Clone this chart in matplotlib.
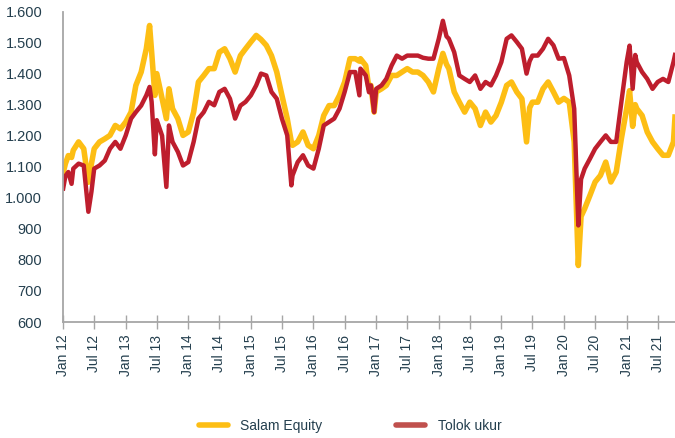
import matplotlib
matplotlib.use("Agg")
import matplotlib.pyplot as plt
import pandas as pd
from matplotlib.lines import Line2D
from matplotlib.ticker import FuncFormatter

plt.rcParams['font.family'] = ['Liberation Sans', 'DejaVu Sans']

# values (index level, start ~1.000)
dates = [
    "2012-01-02", "2012-01-15", "2012-02-01", "2012-02-20", "2012-03-01", "2012-04-01",
    "2012-05-01", "2012-05-28", "2012-06-15", "2012-07-01", "2012-08-01", "2012-09-01",
    "2012-10-01", "2012-11-01", "2012-12-01", "2013-01-01", "2013-02-01", "2013-03-01",
    "2013-04-01", "2013-05-01", "2013-05-20", "2013-06-01", "2013-06-20", "2013-07-01",
    "2013-08-01", "2013-08-26", "2013-09-10", "2013-10-01", "2013-11-01", "2013-12-01",
    "2014-01-01", "2014-02-01", "2014-03-01", "2014-04-01", "2014-05-01", "2014-06-01",
    "2014-07-01", "2014-08-01", "2014-09-01", "2014-10-01", "2014-11-01", "2014-12-01",
    "2015-01-01", "2015-02-01", "2015-03-01", "2015-04-01", "2015-05-01", "2015-06-01",
    "2015-07-01", "2015-08-01", "2015-08-25", "2015-09-01", "2015-10-01", "2015-11-01",
    "2015-12-01", "2016-01-01", "2016-02-01", "2016-03-01", "2016-04-01", "2016-05-01",
    "2016-06-01", "2016-07-01", "2016-08-01", "2016-09-01", "2016-09-25", "2016-10-01",
    "2016-11-01", "2016-11-20", "2016-12-01", "2016-12-20", "2017-01-01", "2017-02-01",
    "2017-03-01", "2017-04-01", "2017-05-01", "2017-06-01", "2017-07-01", "2017-08-01",
    "2017-09-01", "2017-10-01", "2017-11-01", "2017-12-01", "2018-01-01", "2018-01-25",
    "2018-02-15", "2018-03-01", "2018-04-01", "2018-05-01", "2018-06-01", "2018-07-01",
    "2018-08-01", "2018-09-01", "2018-10-01", "2018-11-01", "2018-12-01", "2019-01-01",
    "2019-02-01", "2019-03-01", "2019-04-01", "2019-05-01", "2019-05-28", "2019-06-15",
    "2019-07-01", "2019-08-01", "2019-09-01", "2019-10-01", "2019-11-01", "2019-12-01",
    "2020-01-01", "2020-02-01", "2020-03-01", "2020-03-25", "2020-04-10", "2020-05-01",
    "2020-06-01", "2020-07-01", "2020-08-01", "2020-09-01", "2020-10-01", "2020-11-01",
    "2020-12-01", "2021-01-01", "2021-01-18", "2021-02-05", "2021-02-20", "2021-03-01",
    "2021-04-01", "2021-05-01", "2021-06-01", "2021-07-01", "2021-08-01", "2021-09-01",
    "2021-10-01", "2021-10-10",
]
salam = [
    1080, 1110, 1136, 1130, 1153, 1180,
    1158, 1050, 1110, 1158, 1180, 1190,
    1201, 1233, 1222, 1244, 1276, 1362,
    1405, 1480, 1555, 1470, 1330, 1400,
    1320, 1255, 1351, 1287, 1255, 1201,
    1212, 1276, 1373, 1394, 1416, 1416,
    1469, 1480, 1448, 1405, 1458, 1480,
    1502, 1523, 1510, 1491, 1458, 1405,
    1330, 1255, 1180, 1169, 1180, 1212,
    1169, 1158, 1201, 1265, 1297, 1297,
    1330, 1373, 1448, 1448, 1440, 1448,
    1426, 1351, 1362, 1276, 1341, 1351,
    1362, 1394, 1394, 1405, 1416, 1405,
    1405, 1394, 1373, 1341, 1416, 1465,
    1430, 1416, 1341, 1308, 1276, 1308,
    1287, 1233, 1276, 1244, 1265, 1308,
    1362, 1373, 1341, 1319, 1180, 1290,
    1308, 1308, 1351, 1373, 1341, 1308,
    1320, 1308, 1180, 782, 940, 965,
    1008, 1051, 1072, 1115, 1051, 1083,
    1190, 1287, 1345, 1230, 1300, 1287,
    1265, 1212, 1180, 1158, 1137, 1137,
    1180, 1260,
]
tolok = [
    1030, 1070, 1083, 1045, 1094, 1110,
    1104, 955, 1020, 1094, 1104, 1120,
    1158, 1180, 1158, 1201, 1255, 1276,
    1297, 1330, 1357, 1309, 1140, 1250,
    1200, 1035, 1233, 1180, 1148, 1104,
    1115, 1180, 1255, 1276, 1309, 1298,
    1341, 1351, 1319, 1255, 1297, 1309,
    1330, 1362, 1400, 1394, 1341, 1319,
    1255, 1201, 1040, 1072, 1115, 1137,
    1104, 1094, 1158, 1233, 1244, 1255,
    1287, 1341, 1405, 1405, 1330, 1416,
    1394, 1340, 1362, 1276, 1351, 1362,
    1383, 1426, 1458, 1448, 1458, 1458,
    1458, 1451, 1448, 1448, 1512, 1570,
    1520, 1512, 1469, 1394, 1383, 1373,
    1394, 1351, 1373, 1362, 1394, 1437,
    1512, 1523, 1502, 1480, 1400, 1440,
    1458, 1458, 1480, 1512, 1491, 1448,
    1450, 1394, 1287, 911, 1060, 1094,
    1126, 1158, 1180, 1201, 1180, 1180,
    1308, 1437, 1490, 1351, 1460, 1437,
    1405, 1383, 1351, 1373, 1383, 1373,
    1437, 1460,
]
series_names = ["Salam Equity", "Tolok ukur"]

YELLOW = "#FDBE14"
RED = "#BE1E2D"
TXT = "#243F4E"
GRAY = "#A6A6A6"

d = pd.to_datetime(dates)

fig = plt.figure(figsize=(6.75, 4.38), dpi=100)
ax = fig.add_axes([63 / 675, 1 - 322 / 438, 1 - 63 / 675, (322 - 11.5) / 438])

ax.plot(d, salam, color=YELLOW, lw=4.0, solid_joinstyle="round")
ax.plot(d, tolok, color=RED, lw=3.2, solid_joinstyle="round")

ax.set_ylim(600, 1600)
ax.set_xlim(pd.Timestamp("2012-01-01"), pd.Timestamp("2021-10-10"))
ax.set_yticks(range(600, 1700, 100))
ax.yaxis.set_major_formatter(FuncFormatter(lambda v, p: f"{int(v):,}".replace(",", ".")))

ticks = pd.date_range("2012-01-01", "2021-07-01", freq="6MS")
ax.set_xticks(ticks)
ax.set_xticklabels([t.strftime("%b %y") for t in ticks], rotation=90)

for s in ["top", "right"]:
    ax.spines[s].set_visible(False)
for s in ["left", "bottom"]:
    ax.spines[s].set_color(GRAY)
    ax.spines[s].set_linewidth(1.3)

ax.tick_params(axis="x", direction="inout", length=10, width=1, color=GRAY,
               labelsize=10, labelcolor=TXT, pad=4)
ax.tick_params(axis="y", length=0, labelsize=10.5, labelcolor=TXT, pad=15)

handles = [Line2D([], [], color=YELLOW, lw=4, solid_capstyle="round"),
           Line2D([], [], color="#C0504D", lw=4, solid_capstyle="round")]
fig.legend(handles, series_names, loc="center", bbox_to_anchor=(350 / 675, 1 - 426 / 438),
           ncol=2, frameon=False, fontsize=10, labelcolor=TXT, handlelength=2.1,
           handletextpad=0.9, columnspacing=5.3)

fig.savefig("out.png", dpi=100)
